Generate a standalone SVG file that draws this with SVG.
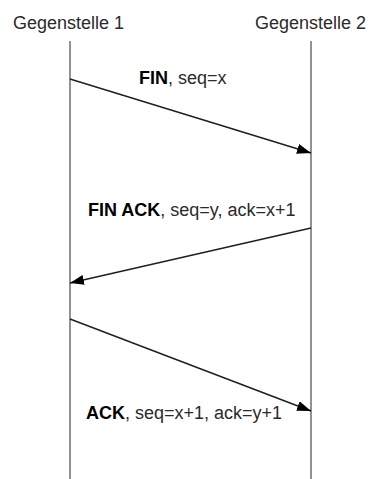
<svg xmlns="http://www.w3.org/2000/svg" width="369" height="479" viewBox="0 0 369 479">
  <style>
    .lifeline { stroke: #6e6e6e; stroke-width: 1.5; fill: none; }
    .msg { stroke: #1e1e1e; stroke-width: 1.4; fill: none; marker-end: url(#head); }
    text { font-family: "Liberation Sans", Arial, sans-serif; font-size: 18px; fill: #2a2a2a; }
    .b { font-weight: bold; fill: #000; }
  </style>
  <defs>
    <marker id="head" viewBox="0 0 14 10" refX="14" refY="5" markerWidth="14" markerHeight="10" markerUnits="userSpaceOnUse" orient="auto">
      <path d="M0,0 L14,5 L0,10 Z" fill="#000"/>
    </marker>
  </defs>
  <rect width="369" height="479" fill="#fff"/>

  <g id="peer1">
    <text x="13" y="29">Gegenstelle 1</text>
    <line class="lifeline" x1="70" y1="41" x2="70" y2="479"/>
  </g>
  <g id="peer2">
    <text x="255" y="29">Gegenstelle 2</text>
    <line class="lifeline" x1="311" y1="41" x2="311" y2="479"/>
  </g>

  <g id="connectors">
    <line class="msg" x1="70" y1="79" x2="311" y2="153"/>
    <line class="msg" x1="311" y1="228" x2="70" y2="283"/>
    <line class="msg" x1="70" y1="319" x2="311" y2="411"/>
  </g>

  <g id="labels">
    <text x="139" y="84"><tspan class="b">FIN</tspan>, seq=x</text>
    <text x="88" y="216"><tspan class="b">FIN ACK</tspan>, seq=y, ack=x+1</text>
    <text x="86" y="419"><tspan class="b">ACK</tspan>, seq=x+1, ack=y+1</text>
  </g>
</svg>
